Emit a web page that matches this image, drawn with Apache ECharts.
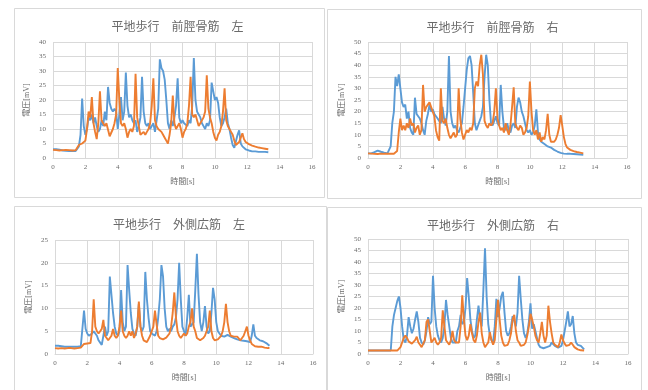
<!DOCTYPE html>
<html>
<head>
<meta charset="utf-8">
<script src="https://cdn.jsdelivr.net/npm/echarts@6/dist/echarts.min.js"></script>
<style>
  html, body { margin: 0; padding: 0; background: #fff; }
  #chart { width: 648px; height: 390px; }
</style>
</head>
<body>
<div id="chart"></div>
<script>
// sampled every 0.1 s from 0 to 13.3 s
const step = 0.1;

const titles = [
  "平地歩行　前脛骨筋　左",
  "平地歩行　前脛骨筋　右",
  "平地歩行　外側広筋　左",
  "平地歩行　外側広筋　右",
];
const yMax = [40, 50, 25, 50];

// 前脛骨筋 左
const blue1 = [
  3, 2.8, 3, 2.7, 2.9, 2.8, 2.6, 2.7, 2.5, 2.4,
  2.4, 2.3, 2.5, 2.3, 2.4, 2.6, 4, 8, 20.5, 11,
  8, 10, 14, 13, 15, 12, 14, 11, 9, 10,
  13, 11, 16, 13, 24.5, 19, 17, 16, 17, 16,
  10, 15, 21, 13, 16, 29.5, 18, 14, 15, 13,
  12, 13, 9, 11, 14, 28, 16, 12, 11, 12,
  10, 11, 12, 9, 13, 17, 34, 31, 30, 27,
  20, 12, 10, 13, 11, 14, 18, 27.5, 14, 12,
  13, 12, 12, 11, 13, 12, 18, 34.5, 20, 16,
  15, 14, 12, 11, 10, 12, 11, 13, 26, 23,
  20, 21, 19, 14, 11, 12, 14, 17, 12, 10,
  7, 4.5, 3.5, 4, 8, 9.5, 5, 4, 3.5, 3,
  2.8, 2.6, 2.5, 2.3, 2.2, 2.3, 2.2, 2.1, 2.2, 2.1,
  2, 2.1, 2, 2,
];
const orange1 = [
  2.8, 3, 2.7, 2.9, 2.6, 2.8, 2.7, 3, 2.8, 2.9,
  2.7, 2.9, 2.6, 2.8, 2.7, 2.9, 4.5, 4.8, 5, 5.5,
  6, 10, 16, 14, 21, 12, 9, 6.5, 12, 23,
  13, 12, 11, 12, 12, 7.5, 8, 10, 12, 15,
  31, 20, 12, 11, 12, 10, 7, 9, 10, 9,
  11, 29, 14, 11, 8, 7.5, 9, 8, 9, 10,
  12, 18, 27.5, 13, 11, 10, 10, 9, 8, 7,
  6, 5, 8, 12, 21.5, 12, 10, 11, 12, 10,
  7, 9, 10, 12, 18, 28, 15, 14, 15, 13,
  11, 12, 12, 14, 16, 28.5, 17, 14, 12, 9,
  7, 6, 8, 9, 11, 16, 24, 13, 11, 10,
  9, 8, 6, 4.5, 5, 5.5, 7, 8.5, 6.5, 5.5,
  5, 4.8, 4.5, 4.3, 4, 3.9, 3.8, 3.6, 3.5, 3.4,
  3.3, 3.2, 3.2, 3,
];

// 前脛骨筋 右
const blue2 = [
  2, 2.2, 2, 2.1, 2.5, 3, 3.2, 3, 2.7, 2.5,
  2.3, 2.2, 2, 2, 5, 15, 20, 35, 31, 36,
  30, 24, 22, 23, 17, 20, 13, 11, 10, 26,
  19, 18, 17, 15, 12, 10, 16, 19, 23, 20,
  21, 19, 18, 17, 16, 15, 22, 17, 14, 20,
  44, 20, 15, 13, 14, 12, 11, 13, 15, 22,
  30, 38, 43, 44, 40, 28, 15, 12, 14, 16,
  18, 22, 35, 44.5, 40, 25, 15, 14, 16, 18,
  15, 14, 31.5, 20, 13, 12, 15, 12, 11, 14,
  15, 13, 22, 26, 24, 20, 18, 15, 12, 11,
  12, 10, 11, 14, 21, 11, 8, 7, 6.5, 6,
  5.5, 5, 4.5, 4.5, 4, 3.5, 3, 2.8, 2.5, 2.2,
  2, 1.9, 1.8, 1.8, 1.9, 1.8, 1.7, 1.7, 1.6, 1.6,
  1.5, 1.5, 1.4, 1.4,
];
const orange2 = [
  2, 1.8, 1.9, 2, 1.8, 1.9, 1.7, 1.8, 1.9, 1.7,
  1.8, 1.7, 1.8, 1.6, 1.8, 1.7, 1.8, 1.7, 3, 11,
  17, 12, 14, 12, 15, 13, 17, 14, 15, 11,
  13, 14, 10, 12, 31.5, 20, 22, 23, 24, 22,
  20, 18, 12, 9, 7.5, 30, 16, 15, 17, 13,
  10, 8.5, 9, 11, 9, 10, 30, 17, 11, 8,
  10, 12, 11, 13, 12, 15, 30, 33, 31, 40,
  44.5, 36, 16, 14, 13, 15, 14, 15, 20, 30,
  17, 14, 12, 13, 11, 15, 12, 10, 14, 22,
  30.5, 15, 13, 12, 14, 13, 10, 11, 13, 18,
  33, 20, 12, 10, 12, 8, 11, 7, 9, 8,
  12, 19, 10, 7, 6.5, 7, 8, 10, 13, 18.5,
  14, 9, 6, 4.5, 4, 3.5, 3.2, 3, 2.8, 2.6,
  2.5, 2.3, 2.2, 2,
];

// 外側広筋 左
const blue3 = [
  1.8, 1.7, 1.8, 1.6, 1.7, 1.8, 1.6, 1.7, 1.6, 1.7,
  1.6, 1.7, 1.6, 1.7, 1.6, 1.5, 1.7, 1.8, 9.5, 5.5,
  4.5, 4, 3.8, 4.5, 5, 4.5, 4, 3, 2.5, 2,
  4, 6, 4, 5, 17, 13, 9, 6, 4.5, 4,
  5, 14, 7, 5, 6, 19.5, 14, 9, 5.5, 4.5,
  4, 6, 11, 6, 5, 6, 18, 12, 8, 5,
  4.5, 4.5, 4, 5, 8, 12, 19.5, 17, 10, 6,
  5, 5.5, 5, 6, 6.5, 8, 12, 20, 12, 6,
  5, 4, 8, 13, 6, 6.5, 7, 14, 22, 13,
  7, 5, 7, 10.5, 6, 4.5, 5, 9, 14.5, 12,
  7, 5, 4.5, 4, 4, 3.8, 4, 4.2, 4, 3.8,
  3.6, 3.5, 3.4, 3.2, 3.1, 3, 3, 2.9, 2.8, 2.8,
  2.7, 2.6, 4, 6.5, 4, 3.5, 3.2, 3, 3, 2.8,
  2.6, 2.4, 2.1, 1.8,
];
const orange3 = [
  1.3, 1.4, 1.2, 1.5, 1.3, 1.4, 1.2, 1.4, 1.3, 1.5,
  1.3, 1.4, 1.2, 1.4, 1.3, 1.2, 1.4, 1.3, 2.2, 2.2,
  2.3, 2.2, 2.4, 5, 12, 6, 5, 4.5, 5, 5.5,
  7.5, 4, 3.5, 3, 3.5, 4, 5.5, 4, 3.5, 4,
  6, 9.5, 5, 4, 3.5, 4, 5, 4, 5, 3.5,
  4.5, 6, 11.5, 6, 4, 3, 2.8, 2.6, 3, 4,
  4, 6, 9.5, 6.5, 4, 3.5, 3.5, 3.2, 3.5, 3.6,
  4, 4.5, 6, 9, 13.5, 8, 5, 4, 3.5, 3.8,
  4.5, 4, 4.5, 6, 7, 10, 6, 5, 3.5, 3.2,
  3, 3.2, 3.5, 4, 5, 6, 9.5, 5, 3.5, 3,
  3, 3.2, 3.5, 4, 5, 7, 11, 7, 5, 4,
  4, 3.8, 4, 3.8, 3.5, 3, 3.5, 4, 5, 6,
  4, 3, 2.2, 1.8, 1.7, 1.6, 1.6, 1.5, 1.6, 1.5,
  1.4, 1.5, 1.3, 1.3,
];

// 外側広筋 右
const blue4 = [
  1.5, 1.5, 1.5, 1.5, 1.5, 1.5, 1.5, 1.5, 1.5, 1.5,
  1.5, 1.5, 1.5, 1.5, 1.5, 12, 17, 20, 23, 25,
  20, 12, 6, 5, 8, 16, 12, 9, 11, 15,
  18.5, 14, 7, 5, 4, 6, 10, 16, 13, 14,
  34, 20, 12, 8, 6, 5, 7, 12, 23.5, 17,
  12, 7, 5, 4.5, 5, 10, 12, 17, 13, 14,
  20, 33, 25, 15, 10, 7, 8, 15, 21, 15,
  12, 28, 46, 25, 13, 8, 6, 5, 12, 24,
  16, 20, 25, 27, 18, 10, 8, 9, 12, 16.5,
  16.5, 12, 18, 34, 24, 15, 9, 7, 9, 14,
  22, 11, 13, 10, 7, 4, 3, 2.5, 2.5, 2.8,
  3, 3, 3.5, 5, 5.5, 3.5, 3, 2.8, 3, 3.5,
  6, 10, 14, 18.5, 12, 13, 16.5, 9, 5, 4,
  3.8, 3.5, 3, 2,
];
const orange4 = [
  1.5, 1.5, 1.5, 1.5, 1.5, 1.5, 1.5, 1.5, 1.5, 1.5,
  1.5, 1.5, 1.5, 1.5, 1.5, 1.5, 1.5, 1.5, 1.5, 2,
  3, 5, 7, 8, 7, 5.5, 5, 4.5, 5, 6,
  7.5, 5, 4, 3, 3, 6, 14, 15, 10, 5,
  6, 7, 5, 4, 5, 7, 19, 12, 6, 5,
  4, 6, 10, 6, 5, 4.5, 5, 12, 25.5, 15,
  8, 6, 8, 13, 9, 6, 5, 8, 14, 18,
  9, 5, 3, 4, 5, 9.5, 6, 4, 6, 15,
  23.5, 15, 8, 5, 3.5, 3, 4, 6, 9, 15,
  17, 10, 6, 5, 3.5, 3, 4, 5, 8, 12,
  17.5, 15, 12, 8, 6, 5, 9, 14, 8, 5,
  8, 21, 14, 9, 5, 4, 3.5, 3, 5, 8.5,
  6, 4.5, 3.5, 3.5, 4, 5, 4, 3, 2.5, 2,
  1.8, 1.6, 1.5, 1.5,
];

const blueSeries = [blue1, blue2, blue3, blue4];
const orangeSeries = [orange1, orange2, orange3, orange4];

const BLUE = "#5b9bd5";
const ORANGE = "#ed7d31";
const GRID_COLOR = "#d9d9d9";
const TEXT_COLOR = "#6a6a6a";
const FONT = "'Liberation Serif', 'Noto Sans CJK JP', serif";

// panel frames and plot areas, in page pixels
const panels = [
  { x: 14, y: 8, w: 310, h: 189 },
  { x: 327, y: 9, w: 314, h: 189 },
  { x: 14, y: 206, w: 312, h: 190 },
  { x: 327, y: 207, w: 314, h: 190 },
];
const grids = [
  { left: 53, top: 42, width: 259, height: 116 },
  { left: 368, top: 42, width: 259, height: 116 },
  { left: 55, top: 240, width: 258, height: 114 },
  { left: 368, top: 239, width: 260, height: 115 },
];

const toPairs = (arr) => arr.map((v, i) => [+(i * step).toFixed(1), v]);

const chart = echarts.init(document.getElementById("chart"));

const option = {
  animation: false,
  backgroundColor: "#fff",
  textStyle: { fontFamily: FONT },
  graphic: panels.map((p) => ({
    type: "rect",
    shape: { x: p.x + 0.5, y: p.y + 0.5, width: p.w, height: p.h },
    style: { fill: "#fff", stroke: GRID_COLOR, lineWidth: 1 },
    z: -10,
    silent: true,
  })),
  title: titles.map((t, i) => ({
    text: t,
    left: grids[i].left + grids[i].width / 2 - 10,
    top: panels[i].y + 9,
    textAlign: "center",
    textStyle: {
      color: TEXT_COLOR,
      fontSize: 12,
      fontWeight: "normal",
      fontFamily: FONT,
    },
  })),
  grid: grids.map((g) => ({ ...g, containLabel: false })),
  xAxis: grids.map((g, i) => ({
    type: "value",
    gridIndex: i,
    min: 0,
    max: 16,
    interval: 2,
    name: "時間[s]",
    nameLocation: "middle",
    nameGap: 20,
    nameTextStyle: { color: TEXT_COLOR, fontSize: 8, fontFamily: FONT },
    axisLine: { show: true, lineStyle: { color: GRID_COLOR } },
    axisTick: { show: false },
    axisLabel: { color: TEXT_COLOR, fontSize: 7, margin: 6, fontFamily: FONT },
    splitLine: { show: true, lineStyle: { color: GRID_COLOR, width: 1 } },
  })),
  yAxis: grids.map((g, i) => ({
    type: "value",
    gridIndex: i,
    min: 0,
    max: yMax[i],
    interval: 5,
    name: "電圧[mV]",
    nameLocation: "middle",
    nameGap: 22,
    nameRotate: 90,
    nameTextStyle: { color: TEXT_COLOR, fontSize: 8, fontFamily: FONT },
    axisLine: { show: false },
    axisTick: { show: false },
    axisLabel: { color: TEXT_COLOR, fontSize: 7, margin: 7, fontFamily: FONT },
    splitLine: { show: true, lineStyle: { color: GRID_COLOR, width: 1 } },
  })),
  series: [],
};

for (let i = 0; i < 4; i++) {
  option.series.push({
    type: "line",
    xAxisIndex: i,
    yAxisIndex: i,
    data: toPairs(blueSeries[i]),
    showSymbol: false,
    symbol: "none",
    lineStyle: { color: BLUE, width: 1.9 },
    z: 2,
  });
  option.series.push({
    type: "line",
    xAxisIndex: i,
    yAxisIndex: i,
    data: toPairs(orangeSeries[i]),
    showSymbol: false,
    symbol: "none",
    lineStyle: { color: ORANGE, width: 1.9 },
    z: 3,
  });
}

chart.setOption(option);
</script>
</body>
</html>
